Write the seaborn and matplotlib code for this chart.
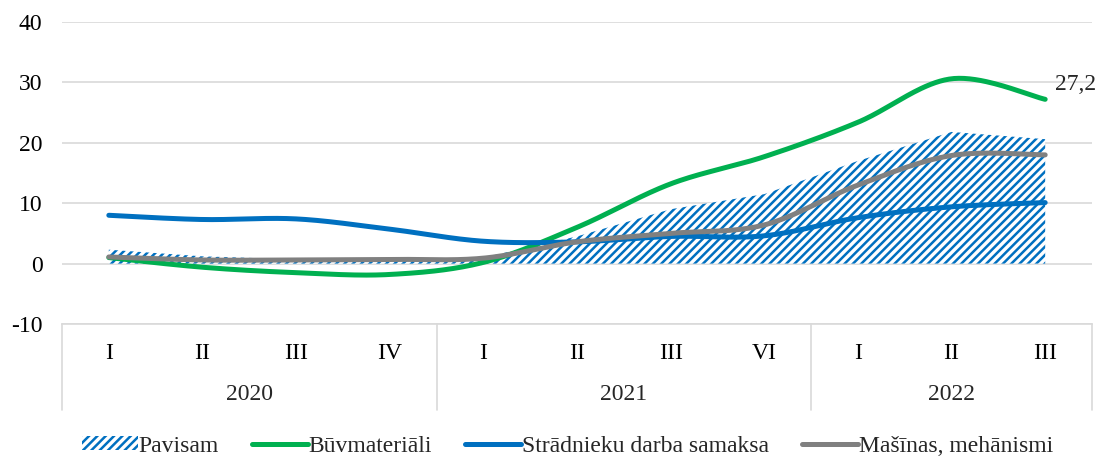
import numpy as np
import pandas as pd
import matplotlib
matplotlib.use("Agg")
import matplotlib.pyplot as plt
import seaborn as sns
from matplotlib.patches import Patch
from matplotlib.lines import Line2D

quarters = ["I", "II", "III", "IV", "I", "II", "III", "VI", "I", "II", "III"]
years = ["2020", "2021", "2022"]
year_sizes = [4, 4, 3]
pavisam = [2.3, 1.2, 0.7, 0.7, 1.0, 4.5, 9.0, 11.5, 17.0, 21.8, 20.6]
buvmateriali = [1.0, -0.6, -1.5, -1.8, 0.2, 6.0, 13.2, 17.7, 23.4, 30.6, 27.2]
stradnieku = [8.0, 7.3, 7.4, 5.7, 3.7, 3.6, 4.5, 4.6, 7.6, 9.4, 10.1]
masinas = [1.1, 0.6, 0.6, 0.7, 0.9, 3.6, 5.0, 6.4, 13.0, 17.9, 18.0]

GREEN = "#00B050"
BLUE = "#0070C0"
GRAY = "#808080"
FS = 17

sns.set_theme(style="white")
plt.rcParams["font.family"] = ["Liberation Serif", "DejaVu Serif"]
plt.rcParams["hatch.linewidth"] = 1.8
plt.rcParams["axes.unicode_minus"] = False


def smooth(xs, ys, n=40):
    pts = np.column_stack([xs, ys]).astype(float)
    N = len(pts)
    out = []
    for i in range(N - 1):
        p0 = pts[max(i - 1, 0)]
        p1 = pts[i]
        p2 = pts[i + 1]
        p3 = pts[min(i + 2, N - 1)]
        c1 = p1 + (p2 - p0) / 6.0
        c2 = p2 - (p3 - p1) / 6.0
        t = np.linspace(0, 1, n, endpoint=(i == N - 2))[:, None]
        b = ((1 - t) ** 3) * p1 + 3 * ((1 - t) ** 2) * t * c1 + 3 * (1 - t) * t ** 2 * c2 + t ** 3 * p2
        out.append(b)
    arr = np.vstack(out)
    return arr[:, 0], arr[:, 1]


x = np.arange(len(quarters))
fig = plt.figure(figsize=(11, 4.59), dpi=100)
ax = fig.add_axes([62 / 1100, 1 - 324 / 459, 1030 / 1100, 302 / 459])

ax.set_ylim(-10, 40)
ax.set_xlim(-0.5, len(quarters) - 0.5)
ax.set_yticks([-10, 0, 10, 20, 30, 40])
ax.grid(axis="y", color="#d9d9d9", linewidth=1.2)
ax.set_axisbelow(True)

ax.fill_between(x, 0, pavisam, facecolor="white", edgecolor=BLUE, hatch="////", linewidth=0, zorder=2)

for vals, col in [(buvmateriali, GREEN), (stradnieku, BLUE), (masinas, GRAY)]:
    sx, sy = smooth(x, vals)
    df = pd.DataFrame({"x": sx, "y": sy})
    sns.lineplot(data=df, x="x", y="y", color=col, linewidth=3.6, ax=ax, sort=False,
                 solid_capstyle="round", zorder=3)

ax.set_xlabel("")
ax.set_ylabel("")
for s in ["top", "right", "left"]:
    ax.spines[s].set_visible(False)
ax.spines["bottom"].set_color("#d9d9d9")
ax.spines["bottom"].set_linewidth(1.2)

ax.set_xticks(x)
ax.set_xticklabels(quarters, fontsize=FS)
ax.tick_params(axis="x", length=0, pad=14)
ax.tick_params(axis="y", length=0, pad=14, labelsize=FS)
for lab in ax.get_yticklabels() + ax.get_xticklabels():
    lab.set_color("black")

trans = ax.get_xaxis_transform()
ybot = -86 / 302
edges = [-0.5]
for s in year_sizes:
    edges.append(edges[-1] + s)
for e in edges:
    ax.plot([e, e], [0, ybot], transform=trans, color="#d9d9d9", linewidth=1.2, clip_on=False)
for i, yr in enumerate(years):
    ax.text((edges[i] + edges[i + 1]) / 2, -71 / 302, yr, transform=trans, ha="center", va="center", fontsize=FS)

ax.text(x[-1] + 0.11, buvmateriali[-1] + 2.4, "27,2", fontsize=FS, ha="left", va="center")

handles = [
    Patch(facecolor="white", edgecolor=BLUE, hatch="////", linewidth=0),
    Line2D([0], [0], color=GREEN, linewidth=3.6),
    Line2D([0], [0], color=BLUE, linewidth=3.6),
    Line2D([0], [0], color=GRAY, linewidth=3.6),
]
labels = ["Pavisam", "Būvmateriāli", "Strādnieku darba samaksa", "Mašīnas, mehānismi"]
fig.legend(handles, labels, loc="center", bbox_to_anchor=(0.516, 1 - 446 / 459), ncol=4, frameon=False,
           fontsize=FS, handlelength=2.35, handletextpad=0.05, columnspacing=1.4, handleheight=0.5)

fig.savefig("out.png", dpi=100)
